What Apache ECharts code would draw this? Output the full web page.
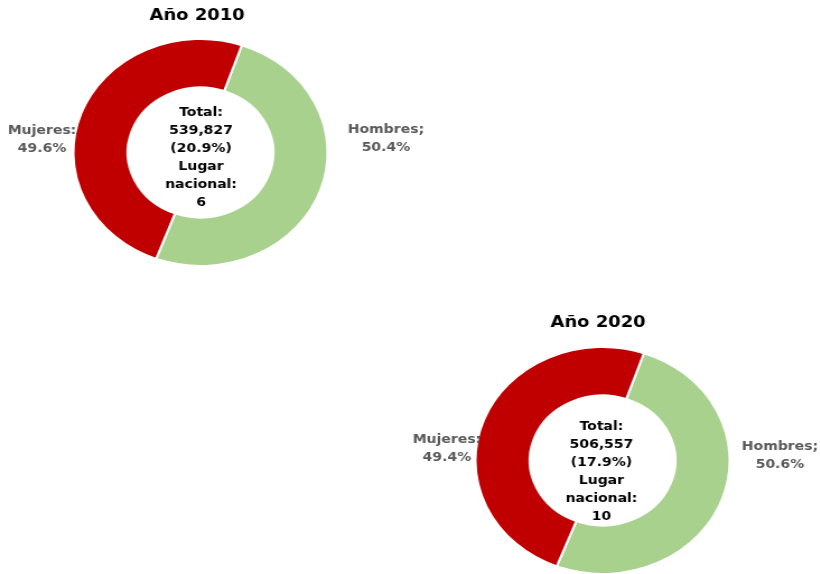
<!DOCTYPE html>
<html>
<head>
<meta charset="utf-8">
<script src="https://cdn.jsdelivr.net/npm/echarts@6/dist/echarts.min.js"></script>
<style>
html,body{margin:0;padding:0;background:#fff;overflow:hidden;}
#main{width:732px;height:574px;transform:scaleX(1.12);transform-origin:0 0;}
</style>
</head>
<body>
<div id="main"></div>
<script>
const years = ['Año 2010', 'Año 2020'];
const categories = ['Hombres', 'Mujeres'];
const separators = [';', ':'];
const hombres = [50.4, 50.6];
const mujeres = [49.6, 49.4];
const totals = ['539,827', '506,557'];
const nationalShare = ['20.9%', '17.9%'];
const nationalRank = [6, 10];

const colors = ['#A9D18E', '#C00000'];
const FONT = 'DejaVu Sans';
const layout = [
  { center: [179, 152.5], title: [176, 16], text: [179.5, 158],
    labels: [[344.6, 138.5], [37.5, 140]] },
  { center: [538, 460.5], title: [534, 323], text: [537, 471.5],
    labels: [[696.4, 456], [399, 449]] }
];

const chart = echarts.init(document.getElementById('main'));
const series = [];
const graphic = [];
years.forEach((yr, i) => {
  const vals = [hombres[i], mujeres[i]];
  series.push({
    type: 'pie',
    center: layout[i].center,
    radius: [65, 113.5],
    startAngle: 71,
    clockwise: true,
    avoidLabelOverlap: false,
    animation: false,
    silent: true,
    itemStyle: { borderColor: '#fff', borderWidth: 2 },
    label: {
      show: true, position: 'outside',
      fontFamily: FONT, fontWeight: 'bold', fontSize: 12.5,
      color: '#595959', lineHeight: 18, align: 'center',
      formatter: p => p.name + separators[p.dataIndex] + '\n' + p.value.toFixed(1) + '%'
    },
    labelLine: { show: false },
    labelLayout: p => ({
      x: layout[i].labels[p.dataIndex][0],
      y: layout[i].labels[p.dataIndex][1],
      align: 'center', verticalAlign: 'middle'
    }),
    data: categories.map((c, k) => ({ name: c, value: vals[k], itemStyle: { color: colors[k] } }))
  });
  graphic.push({
    type: 'text', x: layout[i].title[0], y: layout[i].title[1],
    style: { text: yr, textAlign: 'center', textVerticalAlign: 'middle',
      fontFamily: FONT, fontWeight: 'bold', fontSize: 16, fill: '#000' }
  });
  graphic.push({
    type: 'text', x: layout[i].text[0], y: layout[i].text[1],
    style: {
      text: 'Total:\n' + totals[i] + '\n(' + nationalShare[i] + ')\nLugar\nnacional:\n' + nationalRank[i],
      textAlign: 'center', textVerticalAlign: 'middle', lineHeight: 18,
      fontFamily: FONT, fontWeight: 'bold', fontSize: 12.5, fill: '#000'
    }
  });
});

chart.setOption({ backgroundColor: '#fff', animation: false, series, graphic });
</script>
</body>
</html>
